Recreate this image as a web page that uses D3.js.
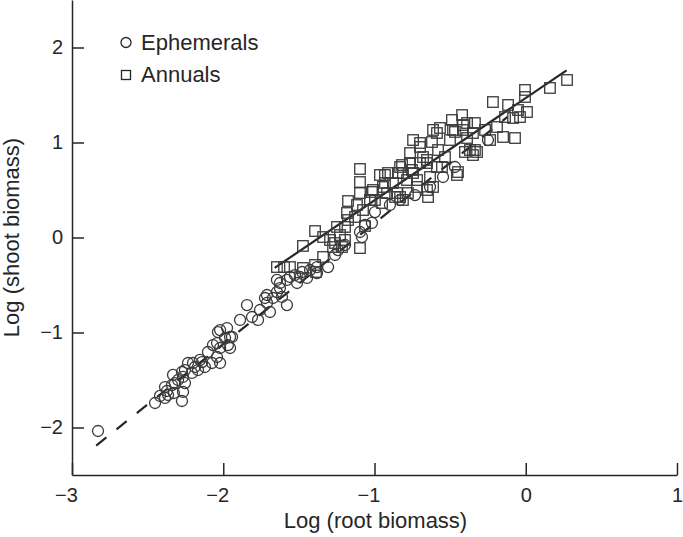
<!DOCTYPE html>
<html>
<head>
<meta charset="utf-8">
<script src="https://cdn.jsdelivr.net/npm/d3@7"></script>
<style>
  html, body { margin: 0; padding: 0; background: #fff; }
  svg { display: block; font-family: "Liberation Sans", Arial, Helvetica, sans-serif; }
</style>
</head>
<body>
<svg id="chart" width="683" height="537"></svg>
<script>
// ---- Data ----
const xTicks = [-3, -2, -1, 0, 1];
const yTicks = [-2, -1, 0, 1, 2];
const xDomain = [-3, 1];
const yDomain = [-2.5, 2.5];

// Ephemerals (circles): [log root biomass, log shoot biomass]
const ephemerals = [
  [-2.828,-2.037],[-2.451,-1.742],[-2.385,-1.689],[-2.326,-1.637],[-2.273,-1.721],
  [-2.385,-1.574],[-2.339,-1.553],[-2.372,-1.616],[-2.299,-1.500],[-2.332,-1.447],
  [-2.266,-1.468],[-2.253,-1.532],[-2.207,-1.426],[-2.253,-1.395],[-2.200,-1.321],
  [-2.167,-1.395],[-2.140,-1.311],[-2.233,-1.321],[-2.121,-1.363],[-2.074,-1.321],
  [-2.021,-1.321],[-2.041,-1.258],[-2.068,-1.132],[-2.021,-1.163],[-1.969,-1.132],
  [-1.955,-1.163],[-1.988,-1.058],[-1.942,-1.047],[-2.035,-0.995],[-2.154,-1.289],
  [-2.187,-1.363],[-2.319,-1.532],[-2.273,-1.416],[-2.365,-1.658],[-2.021,-0.974],
  [-1.975,-0.953],[-1.955,-1.047],[-2.041,-1.111],[-1.889,-0.868],[-1.843,-0.711],
  [-1.810,-0.837],[-1.757,-0.763],[-1.770,-0.868],[-1.691,-0.784],[-1.724,-0.637],
  [-1.671,-0.637],[-1.711,-0.689],[-1.645,-0.574],[-1.612,-0.626],[-1.579,-0.711],
  [-1.625,-0.479],[-1.579,-0.447],[-1.645,-0.447],[-1.559,-0.416],[-1.512,-0.479],
  [-1.493,-0.416],[-1.446,-0.426],[-1.479,-0.363],[-1.426,-0.342],[-1.380,-0.311],
  [-1.380,-0.374],[-1.625,-0.532],[-0.997,0.268],[-1.083,0.005],[-1.241,-0.132],
  [-1.307,-0.311],[-1.526,-0.395],[-1.063,0.132],[-1.017,0.153],[-1.096,0.058],
  [-1.711,-0.605],[-2.266,-1.626],[-2.418,-1.668],[-2.101,-1.205],[-0.831,0.395],
  [-0.732,0.447],[-0.633,0.532],[-0.547,0.637],[-0.468,0.742],[-0.250,1.026],
  [-1.195,-0.079],[-1.261,-0.184],[-0.898,0.342]
];

// Annuals (squares): [log root biomass, log shoot biomass]
const annuals = [
  [-1.645,-0.311],[-1.598,-0.311],[-1.559,-0.311],[-1.473,-0.321],[-1.387,-0.363],
  [-1.473,-0.089],[-1.393,0.068],[-1.340,0.005],[-1.340,-0.205],[-1.274,-0.100],
  [-1.294,-0.026],[-1.248,0.111],[-1.228,0.026],[-1.195,-0.026],[-1.175,0.384],
  [-1.182,0.258],[-1.129,0.216],[-1.116,0.342],[-1.096,0.468],[-1.096,0.584],
  [-1.096,0.721],[-1.076,0.289],[-1.096,-0.111],[-1.063,0.121],[-1.030,0.395],
  [-1.010,0.500],[-0.944,0.532],[-0.931,0.658],[-0.917,0.468],[-0.878,0.574],
  [-0.851,0.468],[-0.831,0.742],[-0.812,0.395],[-0.765,0.784],[-0.765,0.889],
  [-0.719,0.605],[-0.699,0.953],[-0.679,0.847],[-0.653,0.500],[-0.653,0.784],
  [-0.745,0.679],[-1.393,-0.289],[-1.261,-0.058],[-1.215,-0.100],[-1.195,0.111],
  [-1.175,0.184],[-1.017,0.479],[-0.997,0.395],[-0.964,0.658],[-0.931,0.574],
  [-0.911,0.679],[-0.950,0.363],[-0.864,0.426],[-0.845,0.679],[-0.818,0.763],
  [-0.785,0.605],[-0.752,0.711],[-0.719,0.532],[-0.699,0.784],[-0.699,0.995],
  [-0.653,0.816],[-0.633,0.637],[-0.620,1.005],[-0.613,0.532],[-0.587,1.100],
  [-0.580,0.921],[-0.567,1.153],[-0.554,0.742],[-0.534,0.847],[-0.501,1.026],
  [-0.488,1.237],[-0.468,1.111],[-0.448,0.689],[-0.421,1.289],[-0.415,1.184],
  [-0.388,1.047],[-0.369,0.921],[-0.349,1.100],[-0.322,0.900],[-0.646,0.426],
  [-0.745,1.026],[-0.779,0.468],[-0.415,1.132],[-0.388,1.205],[-0.402,0.900],
  [-0.336,1.205],[-0.336,0.921],[-0.349,0.868],[-0.269,1.132],[-0.236,1.026],
  [-0.217,1.426],[-0.190,1.163],[-0.150,1.058],[-0.117,1.395],[-0.137,1.268],
  [-0.084,1.258],[-0.071,1.047],[-0.038,1.268],[-0.005,1.553],[-0.005,1.479],
  [0.008,1.321],[-0.051,1.342],[0.160,1.574],[0.273,1.658],[-0.613,1.132],
  [-0.481,1.132],[-0.587,0.742],[-0.455,0.658],[-0.831,0.426],[-0.812,0.679]
];

// Fitted regression lines: endpoints in data units
const annualFit = [[-1.66, -0.32], [0.27, 1.76]];      // solid
const ephemeralFit = [[-2.84, -2.19], [-0.12, 1.27]];  // dashed

const legendItems = ["Ephemerals", "Annuals"];
const xTitle = "Log (root biomass)";
const yTitle = "Log (shoot biomass)";

// ---- Drawing ----
const svg = d3.select("#chart");
const ink = "#262626";

const x = d3.scaleLinear().domain(xDomain).range([72, 677]);
const y = d3.scaleLinear().domain(yDomain).range([475, 0]);

const fmt = d3.format("d");

// axes
const xAxis = d3.axisBottom(x).tickValues(xTicks).tickFormat(fmt)
  .tickSizeInner(-12).tickSizeOuter(0).tickPadding(13);
const yAxis = d3.axisLeft(y).tickValues(yTicks).tickFormat(fmt)
  .tickSizeInner(-12).tickSizeOuter(0).tickPadding(9);

const gx = svg.append("g").attr("transform", `translate(0,${y.range()[0]})`).call(xAxis);
const gy = svg.append("g").attr("transform", `translate(${x.range()[0]},0)`).call(yAxis);

[gx, gy].forEach(g => {
  g.select(".domain").attr("stroke", ink).attr("stroke-width", 1.5);
  g.selectAll(".tick line").attr("stroke", ink).attr("stroke-width", 1.5);
  g.selectAll(".tick text").attr("fill", ink).attr("font-size", 20)
    .attr("font-family", "Liberation Sans, Arial, sans-serif");
});
gx.selectAll(".tick text").attr("dx", d => d < 0 ? "-0.3em" : 0);

// regression lines
const line = d3.line().x(d => x(d[0])).y(d => y(d[1]));
svg.append("path").datum(ephemeralFit).attr("d", line)
  .attr("fill", "none").attr("stroke", ink).attr("stroke-width", 2.2)
  .attr("stroke-dasharray", "13,13");
svg.append("path").datum(annualFit).attr("d", line)
  .attr("fill", "none").attr("stroke", ink).attr("stroke-width", 2.2);

// points
const sq = 10.5;
svg.append("g").selectAll("rect").data(annuals).join("rect")
  .attr("x", d => x(d[0]) - sq / 2).attr("y", d => y(d[1]) - sq / 2)
  .attr("width", sq).attr("height", sq)
  .attr("fill", "none").attr("stroke", "#3a3a3a").attr("stroke-width", 1.3);

svg.append("g").selectAll("circle").data(ephemerals).join("circle")
  .attr("cx", d => x(d[0])).attr("cy", d => y(d[1])).attr("r", 5.5)
  .attr("fill", "none").attr("stroke", "#3a3a3a").attr("stroke-width", 1.3);

// legend
const lg = svg.append("g");
lg.append("circle").attr("cx", 126).attr("cy", 42.5).attr("r", 5)
  .attr("fill", "none").attr("stroke", ink).attr("stroke-width", 1.3);
lg.append("rect").attr("x", 121.5).attr("y", 70.5).attr("width", 9).attr("height", 9)
  .attr("fill", "none").attr("stroke", ink).attr("stroke-width", 1.3);
lg.selectAll("text").data(legendItems).join("text")
  .attr("x", 141).attr("y", (d, i) => 50 + i * 32)
  .attr("font-size", 22).attr("fill", ink).text(d => d);

// axis titles
svg.append("text").attr("x", (x.range()[0] + x.range()[1]) / 2 + 1).attr("y", 528)
  .attr("text-anchor", "middle").attr("font-size", 22).attr("fill", ink).text(xTitle);
svg.append("text").attr("transform", `translate(19,${(y.range()[0] + y.range()[1]) / 2}) rotate(-90)`)
  .attr("text-anchor", "middle").attr("font-size", 22).attr("fill", ink).text(yTitle);
</script>
</body>
</html>
